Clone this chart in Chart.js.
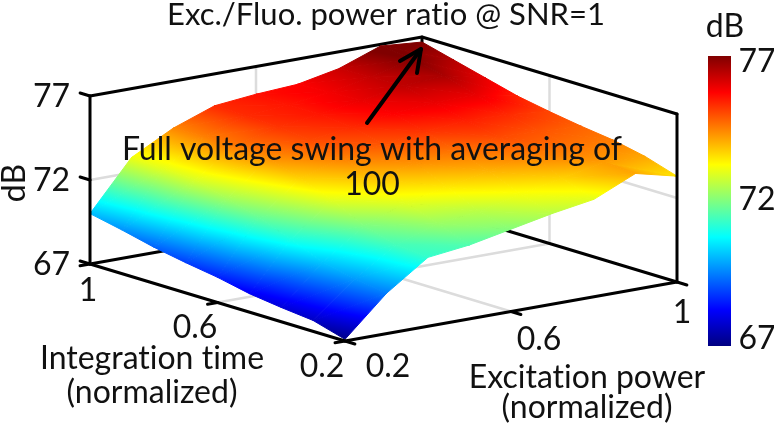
<!DOCTYPE html>
<html><head><meta charset="utf-8">
<style>html,body{margin:0;padding:0;background:#fff}canvas{display:block;filter:blur(0.5px)}</style>
<script src="https://cdn.jsdelivr.net/npm/chart.js@4"></script>
</head><body><canvas id="c" width="774" height="428"></canvas>
<script>
// Data
const powerValues = [0.2,0.3,0.4,0.5,0.6,0.7,0.8,0.9,1.0];
const timeValues  = [0.2,0.3,0.4,0.5,0.6,0.7,0.8,0.9,1.0];
// one row per integration time, one column per excitation power (dB)
const z_t02 = [67.1,69.4,71.1,71.4,71.9,72.4,72.8,73.9,73.3];
const z_t03 = [67.65,69.7,71.3,72.1,72.4,73.0,73.5,74.0,73.9];
const z_t04 = [67.85,70.1,71.8,72.8,73.3,73.8,74.3,74.4,74.3];
const z_t05 = [68.1,70.9,72.8,73.6,74.1,74.4,74.8,74.7,74.55];
const z_t06 = [68.5,71.6,73.5,74.3,74.7,75.0,75.2,75.1,74.85];
const z_t07 = [68.8,72.2,74.1,74.8,75.1,75.5,75.7,75.7,75.2];
const z_t08 = [69.15,72.7,74.4,75.0,75.3,75.7,76.1,76.3,75.7];
const z_t09 = [69.6,72.8,74.3,75.1,75.3,75.6,76.05,76.7,76.2];
const z_t10 = [70.0,72.9,74.2,75.1,75.35,75.5,76.0,76.9,76.7];
const surfaceRows = [z_t02,z_t03,z_t04,z_t05,z_t06,z_t07,z_t08,z_t09,z_t10];
const powerTicks = [0.2,0.6,1];
const timeTicks  = [0.2,0.6,1];
const dbTicks    = [67,72,77];
const titleText = 'Exc./Fluo. power ratio @ SNR=1';
const noteLines = ['Full voltage swing with averaging of','100'];

// View of the 3D box: maps (power, time, dB) to the flat chart plane
function proj(p,t,z){
  return {
    x: 345 + 415*(p-0.2) - 318.75*(t-0.2),
    y: 341 - 73.75*(p-0.2) - 96.25*(t-0.2) - 16.8*(z-67)
  };
}
const COLOR_MIN=67, COLOR_MAX=76.7;
const clamp=v=>Math.max(0,Math.min(1,v));
function jet(f){
  const r=clamp(Math.min(4*f-1.5,-4*f+4.5)),g=clamp(Math.min(4*f-.5,-4*f+3.5)),b=clamp(Math.min(4*f+.5,-4*f+2.5));
  return `rgb(${Math.round(r*255)},${Math.round(g*255)},${Math.round(b*255)})`;
}
const knots=[0,.125,.375,.625,.875,1];
function fillStops(g,f0,f1){
  const lo=Math.max(0,Math.min(f0,f1)),hi=Math.min(1,Math.max(f0,f1));
  const at=f=>(f1===f0)?0:clamp((f-f0)/(f1-f0));
  g.addColorStop(at(lo),jet(lo));
  knots.forEach(k=>{if(k>lo&&k<hi)g.addColorStop(at(k),jet(k));});
  g.addColorStop(at(hi),jet(hi));
}
function lineSet(points,color,width){
  return {type:'scatter',showLine:true,fill:false,pointRadius:0,borderColor:color,borderWidth:width,
          borderCapStyle:'round',borderJoinStyle:'round',data:points};
}
// one facet between three surface samples, shaded by the jet ramp across it
function facet(a,b,c){
  const pts=[a,b,c].map(v=>({...proj(v.p,v.t,v.z),z:v.z}));
  const fOf=z=>(z-COLOR_MIN)/(COLOR_MAX-COLOR_MIN);
  const flat=jet(fOf((a.z+b.z+c.z)/3));
  const shade=(ctx)=>{
    const ch=ctx.chart;
    if(!ch.chartArea) return flat;
    const sx=ch.scales.x,sy=ch.scales.y;
    const P=pts.map(q=>({x:sx.getPixelForValue(q.x),y:sy.getPixelForValue(q.y),z:q.z}));
    if(!P.every(q=>Number.isFinite(q.x)&&Number.isFinite(q.y))) return flat;
    const d1x=P[1].x-P[0].x,d1y=P[1].y-P[0].y,d1z=P[1].z-P[0].z;
    const d2x=P[2].x-P[0].x,d2y=P[2].y-P[0].y,d2z=P[2].z-P[0].z;
    const det=d1x*d2y-d2x*d1y;
    if(Math.abs(det)<1e-6) return flat;
    const gx=(d1z*d2y-d2z*d1y)/det,gy=(d1x*d2z-d2x*d1z)/det,n=gx*gx+gy*gy;
    if(n<1e-9) return flat;
    const zs=P.map(q=>q.z),zl=Math.min(...zs),zh=Math.max(...zs);
    const k=(zh-zl)/n;
    const base=P[zs.indexOf(zl)];
    const g=ch.ctx.createLinearGradient(base.x,base.y,base.x+gx*k,base.y+gy*k);
    fillStops(g,fOf(zl),fOf(zh));
    return g;
  };
  return {type:'scatter',showLine:true,fill:'shape',pointRadius:0,borderWidth:1,borderJoinStyle:'round',
          backgroundColor:shade,borderColor:shade,data:[pts[0],pts[1],pts[2],pts[0]].map(q=>({x:q.x,y:q.y}))};
}

const layers=[]; // in painting order, back to front
const GREY='#dcdcdc', BLACK='#000';
const zLo=dbTicks[0], zHi=dbTicks[2], pLo=powerTicks[0], pHi=powerTicks[2], tLo=timeTicks[0], tHi=timeTicks[2];
// walls and floor grid
layers.push(lineSet([proj(pLo,tHi,72),proj(pHi,tHi,72),proj(pHi,tLo,72)],GREY,2.5));
layers.push(lineSet([proj(0.6,tHi,zLo),proj(0.6,tHi,zHi)],GREY,2.5));
layers.push(lineSet([proj(pHi,0.6,zLo),proj(pHi,0.6,zHi)],GREY,2.5));
layers.push(lineSet([proj(0.6,tLo,zLo),proj(0.6,tHi,zLo)],GREY,2.5));
layers.push(lineSet([proj(pLo,0.6,zLo),proj(pHi,0.6,zLo)],GREY,2.5));
// back edges of the box
layers.push(lineSet([proj(pLo,tHi,zLo),proj(pHi,tHi,zLo),proj(pHi,tLo,zLo)],BLACK,3));
layers.push(lineSet([proj(pLo,tHi,zHi),proj(pHi,tHi,zHi),proj(pHi,tLo,zHi)],BLACK,3));
layers.push(lineSet([proj(pHi,tHi,zLo),proj(pHi,tHi,zHi)],BLACK,3));
// surface, far cells first
for(let r=surfaceRows.length-2;r>=0;r--){
  for(let c=powerValues.length-2;c>=0;c--){
    const v=(i,j)=>({p:powerValues[j],t:timeValues[i],z:surfaceRows[i][j]});
    layers.push(facet(v(r+1,c+1),v(r+1,c),v(r,c+1)));
    layers.push(facet(v(r+1,c),v(r,c),v(r,c+1)));
  }
}
// front edges and ticks
layers.push(lineSet([proj(pLo,tHi,zHi),proj(pLo,tHi,zLo),proj(pLo,tLo,zLo),proj(pHi,tLo,zLo),proj(pHi,tLo,zHi)],BLACK,3));
dbTicks.forEach(z=>layers.push(lineSet([proj(pLo,tHi,z),proj(pLo,tHi+0.031,z)],BLACK,3)));
timeTicks.forEach(t=>layers.push(lineSet([proj(pLo,t,zLo),proj(pLo-0.024,t,zLo)],BLACK,3)));
powerTicks.forEach(p=>layers.push(lineSet([proj(p,tLo,zLo),proj(p,tLo-0.031,zLo)],BLACK,3)));
// arrow to the maximum
const arrowTailPt={x:367,y:123}, arrowTipPt={x:421,y:49};
layers.push(lineSet([arrowTailPt,arrowTipPt],BLACK,4));
layers.push(lineSet([{x:400,y:61},arrowTipPt,{x:417,y:73}],BLACK,4));
// colour bar
const BAR={x0:708,x1:731,yTop:56,yBot:346};
layers.push({type:'scatter',showLine:true,fill:'shape',pointRadius:0,borderWidth:0,
  backgroundColor:(ctx)=>{
    const ch=ctx.chart,sy=ch.scales.y;
    if(!ch.chartArea) return '#888';
    const y0=sy.getPixelForValue(BAR.yBot),y1=sy.getPixelForValue(BAR.yTop);
    if(!Number.isFinite(y0)||!Number.isFinite(y1)) return '#888';
    const g=ch.ctx.createLinearGradient(0,y0,0,y1);
    fillStops(g,0,1);return g;},
  data:[{x:BAR.x0,y:BAR.yTop},{x:BAR.x1,y:BAR.yTop},{x:BAR.x1,y:BAR.yBot},{x:BAR.x0,y:BAR.yBot},{x:BAR.x0,y:BAR.yTop}]});

const FONT='Lato, "Open Sans", sans-serif';
const textPlugin={id:'texts',afterDraw(ch){
  const c=ch.ctx;c.save();c.fillStyle='#111';c.textAlign='center';c.textBaseline='middle';
  c.textRendering='optimizeSpeed';
  const put=(s,x,y,size)=>{c.font=`${size||32}px ${FONT}`;c.fillText(s,x,y);};
  put(titleText,386,15,31);
  noteLines.forEach((s,i)=>put(s,372,150+i*35));
  dbTicks.forEach(z=>{c.textAlign='right';put(String(z),70,proj(pLo,tHi,z).y+1);});
  c.textAlign='center';
  put(String(timeTicks[2]),88,291);put(String(timeTicks[1]),195,328);put(String(timeTicks[0]),322,367);
  put(String(powerTicks[0]),388,367);put(String(powerTicks[1]),539,340);put(String(powerTicks[2]),682,313);
  put('Integration time',152,359);put('(normalized)',152,393);
  put('Excitation power',587,378);put('(normalized)',587,408);
  put('dB',725,27);
  put(String(dbTicks[2]),757,62);put(String(dbTicks[1]),757,200);put(String(dbTicks[0]),757,339);
  c.translate(15,183);c.rotate(-Math.PI/2);put('dB',0,0);
  c.restore();
}};
new Chart(document.getElementById('c'),{
  type:'scatter',
  data:{datasets:layers.slice().reverse()},
  options:{responsive:false,animation:false,devicePixelRatio:1,
    layout:{padding:0},
    plugins:{legend:{display:false},tooltip:{enabled:false},title:{display:false}},
    events:[],
    scales:{x:{type:'linear',display:false,min:0,max:774},y:{type:'linear',display:false,reverse:true,min:0,max:428}}
  },
  plugins:[textPlugin]
});
</script></body></html>
